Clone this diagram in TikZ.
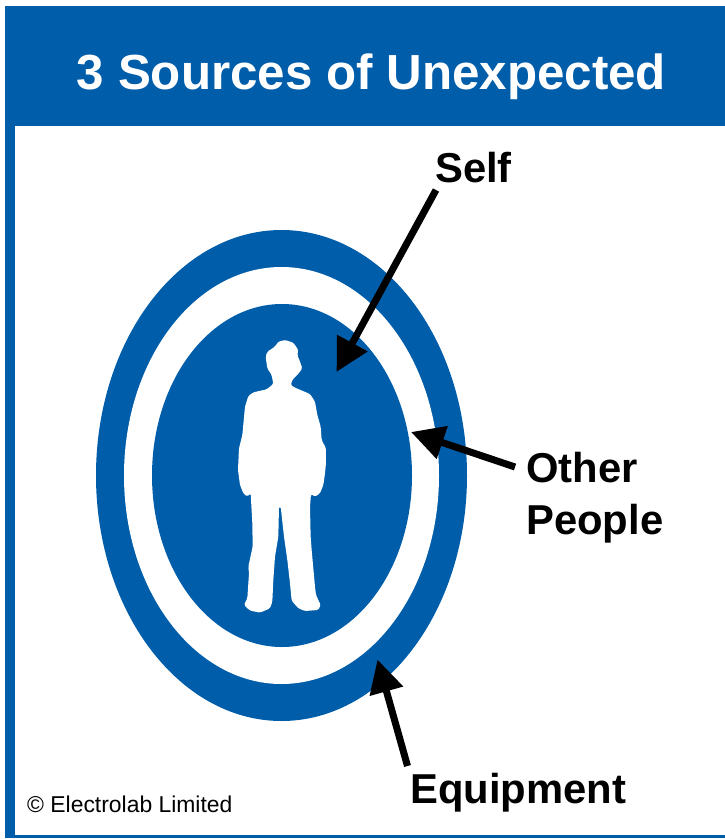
\documentclass[tikz,border=0pt]{standalone}
\usepackage{fontspec}
\setmainfont{Liberation Sans}
\usetikzlibrary{arrows.meta}
\definecolor{elblue}{HTML}{005DAA}
\tikzset{
  lab/.style={font=\bfseries\fontsize{41.8}{50}\selectfont,text=black,inner sep=0pt,align=left},
  pointer/.style={line width=7pt,draw=black,-{Triangle[length=33pt,width=33pt]},shorten >=0pt}
}
\begin{document}
\begin{tikzpicture}[x=1pt,y=-1pt]
\useasboundingbox (0,0) rectangle (725,839);
\fill[white] (0,0) rectangle (725,839);
\fill[elblue] (5,6) rectangle (725,838);
\fill[white] (15,126) rectangle (725,835);
\node[font=\bfseries\fontsize{49.3}{56}\selectfont,text=white,inner sep=0pt,anchor=base] (title) at (371.5,89) {3 Sources of Unexpected};
\fill[elblue] (281.5,475.5) ellipse [x radius=185.5,y radius=245.5];
\fill[white] (281.5,475.5) ellipse [x radius=157.5,y radius=208.5];
\fill[elblue] (282,475.5) ellipse [x radius=130,y radius=171.5];
\begin{scope}[shift={(210,320)},x=0.3333pt,y=-0.3333pt]
\fill[white,rounded corners=1.5pt] (225,60) -- (250,68) -- (265,90) -- (262,105) -- (270,125) -- (277,145) -- (262,165) -- (248,178) -- (242,195) -- (255,203) -- (300,222) -- (315,245) -- (322,285) -- (332,320) -- (335,360) -- (348,385) -- (348,430) -- (345,460) -- (340,495) -- (330,520) -- (315,530) -- (303,522) -- (300,560) -- (302,650) -- (305,690) -- (315,800) -- (318,825) -- (332,855) -- (325,870) -- (285,873) -- (265,865) -- (245,842) -- (240,790) -- (232,720) -- (222,650) -- (212,560) -- (207,560) -- (205,650) -- (195,710) -- (190,780) -- (187,845) -- (180,865) -- (150,878) -- (120,872) -- (102,855) -- (112,835) -- (117,760) -- (115,740) -- (128,680) -- (127,610) -- (122,520) -- (112,530) -- (100,520) -- (90,495) -- (84,450) -- (87,385) -- (97,345) -- (105,260) -- (115,228) -- (130,217) -- (170,208) -- (190,192) -- (185,165) -- (172,145) -- (167,110) -- (172,95) -- (195,80) -- (205,65) -- cycle;
\end{scope}
\node[lab,anchor=base west] (self) at (435,182) {Self};
\node[lab,anchor=base west] (other) at (526,482) {Other};
\node[lab,anchor=base west] (people) at (526,534) {People};
\node[lab,anchor=base west] (equip) at (410,803) {Equipment};
\node[font=\fontsize{22.9}{25}\selectfont,text=black,inner sep=0pt,anchor=base west] (copy) at (27,812) {© Electrolab Limited};
\coordinate (selftail) at (436,190);
\coordinate (selftip) at (336.5,372);
\coordinate (othertail) at (515,467);
\coordinate (othertip) at (411,432);
\coordinate (equiptail) at (407.5,766);
\coordinate (equiptip) at (377.5,659.5);
\draw[pointer] (selftail) -- (selftip);
\draw[pointer] (othertail) -- (othertip);
\draw[pointer] (equiptail) -- (equiptip);
\end{tikzpicture}
\end{document}
